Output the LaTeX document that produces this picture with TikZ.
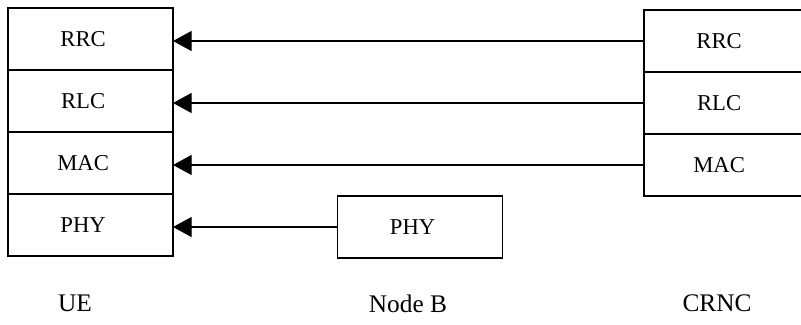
\documentclass[tikz,border=0pt]{standalone}
\usepackage{fontspec}
\setmainfont{Liberation Serif}
\usetikzlibrary{arrows.meta,positioning}

\begin{document}
\begin{tikzpicture}[
        x=0.75pt, y=-0.75pt,
        node distance=0pt,
        layer/.style={draw, line width=1pt, outer sep=0pt, minimum width=123.75pt, minimum height=46.5pt,
            font=\fontsize{17}{20}\selectfont, execute at begin node={\hspace*{-11pt}}},
        entity/.style={font=\fontsize{19}{22}\selectfont},
        msg/.style={line width=1pt, -{Triangle[length=14pt, width=15pt]}}
    ]
    \useasboundingbox (0,0) rectangle (801,325);

    % Nodes
    \node[layer] (ueRRC) at (90.5,39) {RRC};
    \node[layer, below=of ueRRC] (ueRLC) {RLC};
    \node[layer, below=of ueRLC] (ueMAC) {MAC};
    \node[layer, below=of ueMAC] (uePHY) {PHY};

    \node[layer] (nbPHY) at (420,227) {PHY};

    \node[layer] (crncRRC) at (726.5,41) {RRC};
    \node[layer, below=of crncRRC] (crncRLC) {RLC};
    \node[layer, below=of crncRLC] (crncMAC) {MAC};

    \node[entity] (ue) at (75,303) {UE};
    \node[entity] (nb) at (408,304) {Node B};
    \node[entity] (crnc) at (717,303) {CRNC};

    % Edges
    \draw[msg] (crncRRC.west) -- (crncRRC.west -| ueRRC.east);
    \draw[msg] (crncRLC.west) -- (crncRLC.west -| ueRLC.east);
    \draw[msg] (crncMAC.west) -- (crncMAC.west -| ueMAC.east);
    \draw[msg] (nbPHY.west) -- (nbPHY.west -| uePHY.east);

\end{tikzpicture}
\end{document}
